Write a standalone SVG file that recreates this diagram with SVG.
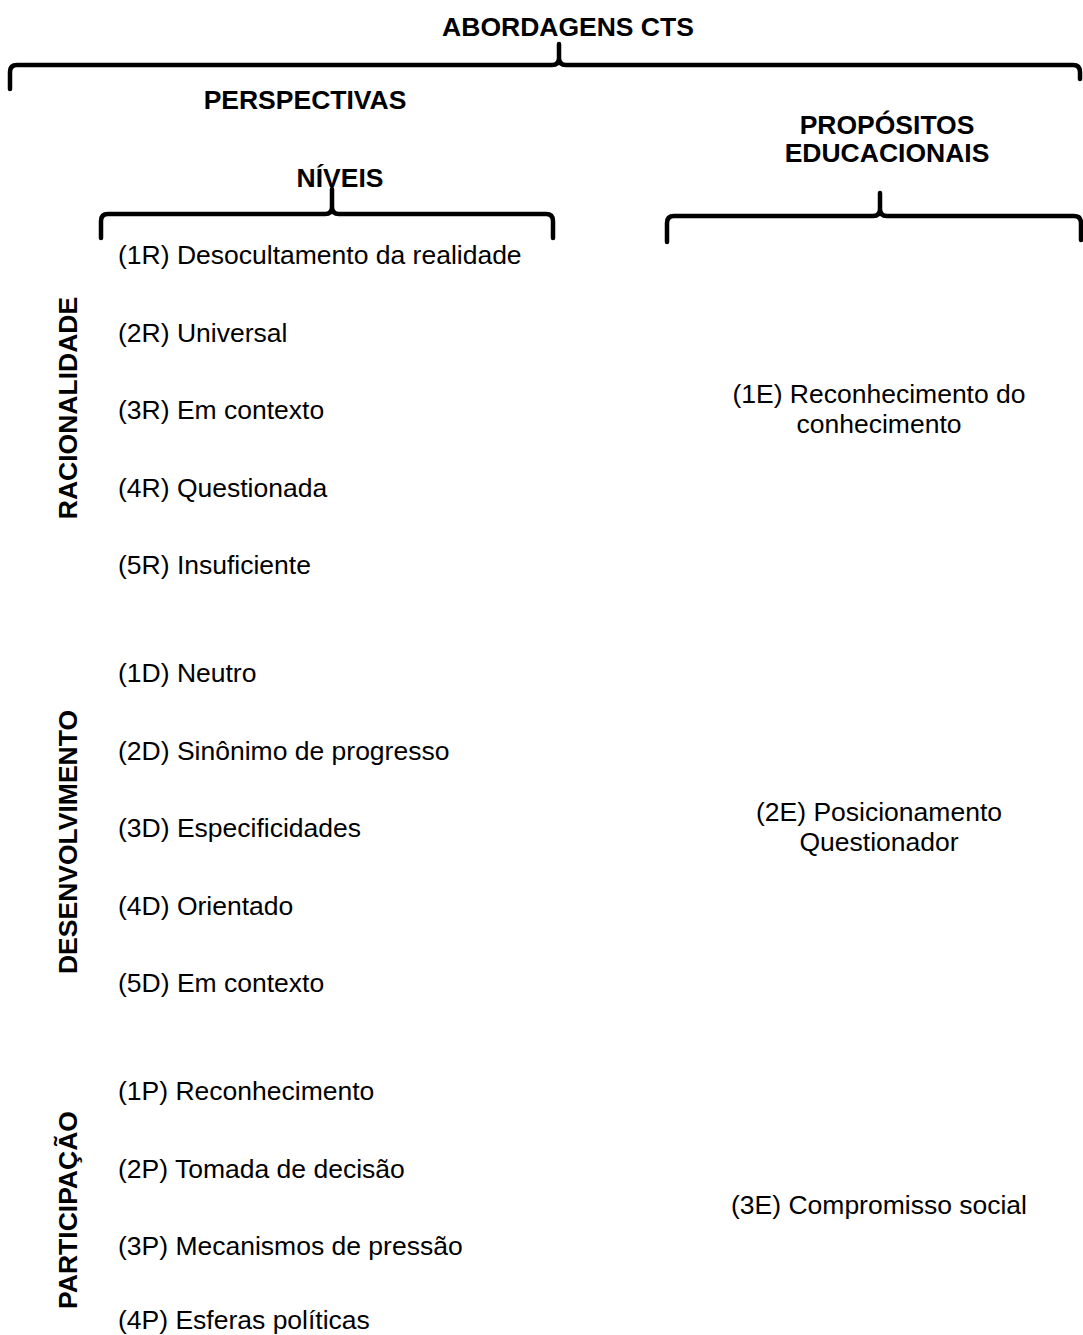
<svg xmlns="http://www.w3.org/2000/svg" width="1083" height="1335" viewBox="0 0 1083 1335">
<style>
text{font-family:"Liberation Sans",Arial,sans-serif;font-size:26.5px;fill:#000}
.b{font-weight:bold}
.m{text-anchor:middle}
.brace{fill:none;stroke:#000;stroke-width:4.5;stroke-linecap:round;stroke-linejoin:round}
</style>
<rect width="1083" height="1335" fill="#fff"/>
<g id="connectors">
<path class="brace" d="M10 89 L10 72 Q10 65 17 65 L552 65 Q559 65 559 58 L559 44 M559 44 L559 58 Q559 65 566 65 L1073 65 Q1080 65 1080 72 L1080 79"/>
<path class="brace" d="M101 238 L101 221 Q101 214 108 214 L325 214 Q332 214 332 207 L332 189 M332 189 L332 207 Q332 214 339 214 L546 214 Q553 214 553 221 L553 238"/>
<path class="brace" d="M667 242 L667 223 Q667 216 674 216 L873 216 Q880 216 880 209 L880 193 M880 193 L880 209 Q880 216 887 216 L1074 216 Q1081 216 1081 223 L1081 240"/>
</g>
<g id="title"><text class="b m" x="568" y="36">ABORDAGENS CTS</text></g>
<g id="perspectivas"><text class="b m" x="305" y="109">PERSPECTIVAS</text></g>
<g id="niveis"><text class="b m" x="340" y="187">NÍVEIS</text></g>
<g id="propositos"><text class="b m" x="887" y="134">PROPÓSITOS</text><text class="b m" x="887" y="162">EDUCACIONAIS</text></g>
<g id="racionalidade"><text class="b m" transform="translate(77,408) rotate(-90)">RACIONALIDADE</text></g>
<g id="desenvolvimento"><text class="b m" transform="translate(77,842) rotate(-90)">DESENVOLVIMENTO</text></g>
<g id="participacao"><text class="b m" transform="translate(77,1210) rotate(-90)">PARTICIPAÇÃO</text></g>
<g id="niveis-r">
<text x="118" y="264">(1R) Desocultamento da realidade</text>
<text x="118" y="342">(2R) Universal</text>
<text x="118" y="419">(3R) Em contexto</text>
<text x="118" y="497">(4R) Questionada</text>
<text x="118" y="574">(5R) Insuficiente</text>
</g>
<g id="niveis-d">
<text x="118" y="682">(1D) Neutro</text>
<text x="118" y="760">(2D) Sinônimo de progresso</text>
<text x="118" y="837">(3D) Especificidades</text>
<text x="118" y="915">(4D) Orientado</text>
<text x="118" y="992">(5D) Em contexto</text>
</g>
<g id="niveis-p">
<text x="118" y="1100">(1P) Reconhecimento</text>
<text x="118" y="1178">(2P) Tomada de decisão</text>
<text x="118" y="1255">(3P) Mecanismos de pressão</text>
<text x="118" y="1329">(4P) Esferas políticas</text>
</g>
<g id="proposito-1e"><text class="m" x="879" y="403">(1E) Reconhecimento do</text><text class="m" x="879" y="433">conhecimento</text></g>
<g id="proposito-2e"><text class="m" x="879" y="821">(2E) Posicionamento</text><text class="m" x="879" y="851">Questionador</text></g>
<g id="proposito-3e"><text class="m" x="879" y="1214">(3E) Compromisso social</text></g>
</svg>
